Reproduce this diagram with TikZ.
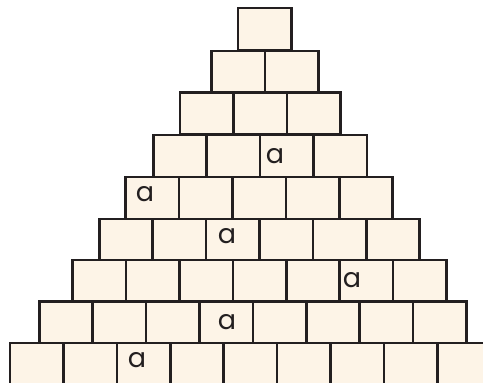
\documentclass[tikz,border=0pt]{standalone}
\usepackage{fontspec}
\newfontfamily\brickfont{Poppins}
\usepackage{xcolor}
\definecolor{brickfill}{RGB}{253, 244, 231}
\definecolor{brickline}{RGB}{35, 31, 32}

\begin{document}
\begin{tikzpicture}[x=1pt, y=-1pt,
        brick/.style={draw=brickline, fill=brickfill, line width=2.6pt,
            minimum width=53.4pt, minimum height=42pt, inner sep=0pt},
        letter/.style={inner sep=0pt, text=brickline, font=\brickfont\fontsize{27}{27}\selectfont}]
        \useasboundingbox (0,0) rectangle (483,383);
        \clip (0,0) rectangle (483,383);

        % Rows of bricks: row / left edge / top edge
        \foreach \r/\x/\y in {1/238/8, 2/211.7/51, 3/180/92.5, 4/153.3/135, 5/125.7/177,
                              6/99.3/219, 7/72.7/260, 8/39.3/301.7, 9/10/343} {
            \foreach \c in {1,...,\r} {
                \node[brick] (b-\r-\c) at ({\x+26.7+(\c-1)*53.4}, {\y+21}) {};
            }
        }

        % Letters in some bricks
        \node[letter] (a-4) at (275, 156.5) {a};
        \node[letter] (a-5) at (145, 194) {a};
        \node[letter] (a-6) at (227, 236) {a};
        \node[letter] (a-7) at (352, 280) {a};
        \node[letter] (a-8) at (227, 322.5) {a};
        \node[letter] (a-9) at (137, 360.5) {a};
    \end{tikzpicture}
\end{document}
